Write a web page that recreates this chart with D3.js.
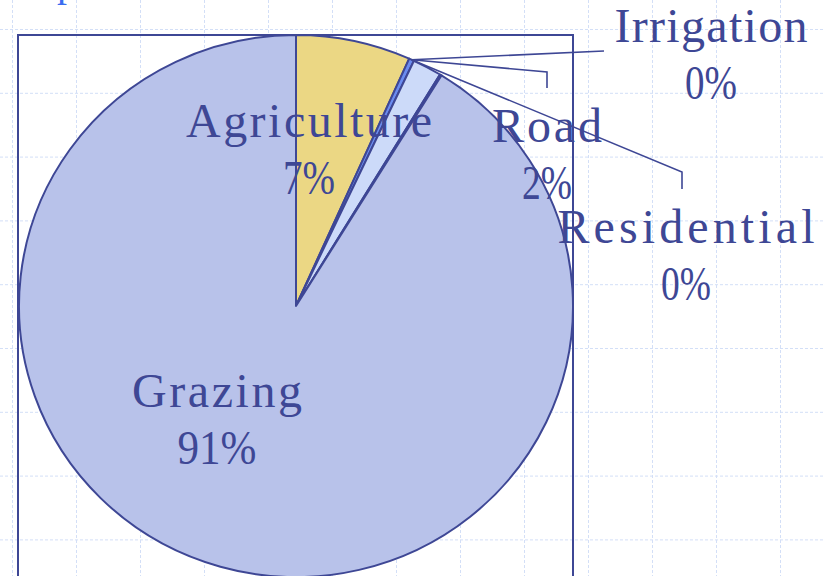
<!DOCTYPE html>
<html><head><meta charset="utf-8">
<script src="https://cdn.jsdelivr.net/npm/d3@7"></script>
<style>html,body{margin:0;padding:0;background:#fff;overflow:hidden}</style>
</head><body>
<svg id="c" width="823" height="576"></svg>
<script>
// ---- data ----
const categories = ["Agriculture", "Irrigation", "Road", "Residential", "Grazing"];
const shares = [6.7, 0.3, 1.7, 0.1, 91.2];
const percentLabels = ["7%", "0%", "2%", "0%", "91%"];

// ---- styles / layout ----
const fills = {Agriculture:"#ebd784", Irrigation:"#6b8cf0", Road:"#ccdaf9", Residential:"#8aa4f2", Grazing:"#b8c2ea"};
const ink = "#3e4795";
const cx = 296, cy = 306, ry = 271, rx = 277;
const labelLayout = {
  Agriculture: {x:309, y:137, w1:246, w2:52},
  Grazing:     {x:217, y:407, w1:170, w2:79},
  Road:        {x:547, y:142, w1:110, w2:50},
  Irrigation:  {x:711, y:42,  w1:193, w2:52},
  Residential: {x:686, y:243, w1:257, w2:50}
};
const leaderEnds = {
  Irrigation:  [[604,51]],
  Road:        [[547,72],[547,88]],
  Residential: [[682,172],[682,189]]
};

const svg = d3.select("#c");

// background dashed grid
const grid = svg.append("g").attr("stroke","#d3dff7").attr("stroke-width",1).attr("stroke-dasharray","3,2");
d3.range(12.5, 823, 64).forEach(x => grid.append("line").attr("x1",x).attr("x2",x).attr("y1",0).attr("y2",576));
d3.range(29.5, 576, 63.8).forEach(y => grid.append("line").attr("x1",0).attr("x2",823).attr("y1",y).attr("y2",y));

// cut-off title fragment
svg.append("text").attr("x",57).attr("y",-4).attr("font-family","Liberation Serif").attr("font-size",40)
  .attr("fill","#3a6cf0").text("p");

// frame
svg.append("rect").attr("x",18).attr("y",35).attr("width",555).attr("height",600)
  .attr("fill","none").attr("stroke",ink).attr("stroke-width",2);

const data = categories.map((c,i)=>({cat:c, v:shares[i], lab:percentLabels[i]}));
const pie = d3.pie().sort(null).value(d=>d.v);
const arcs = pie(data);
const arc = d3.arc().innerRadius(0).outerRadius(ry);

const g = svg.append("g").attr("transform",`translate(${cx},${cy}) scale(${rx/ry},1)`);
g.selectAll("path").data(arcs).join("path")
  .attr("d",arc)
  .attr("fill",d=>fills[d.data.cat])
  .attr("stroke",ink).attr("stroke-width",2).attr("stroke-linejoin","round")
  .attr("vector-effect","non-scaling-stroke");

// leader lines (all originate at the rim of the Irrigation slice)
const irr = arcs.find(a=>a.data.cat==="Irrigation");
const ma = (irr.startAngle+irr.endAngle)/2;
const start = [cx + rx*Math.sin(ma), cy - ry*Math.cos(ma)];
Object.keys(leaderEnds).forEach(k=>{
  svg.append("path").attr("d", d3.line()([start, ...leaderEnds[k]]))
    .attr("fill","none").attr("stroke",ink).attr("stroke-width",1.6);
});

// labels
arcs.forEach(a=>{
  const L = labelLayout[a.data.cat];
  const t = svg.append("g").attr("font-family","Liberation Serif").attr("font-size",48).attr("fill",ink).attr("text-anchor","middle");
  t.append("text").attr("x",L.x).attr("y",L.y).attr("textLength",L.w1).attr("lengthAdjust","spacing").text(a.data.cat);
  t.append("text").attr("x",L.x).attr("y",L.y+57).attr("textLength",L.w2).attr("lengthAdjust","spacingAndGlyphs").text(a.data.lab);
});
</script>
</body></html>
